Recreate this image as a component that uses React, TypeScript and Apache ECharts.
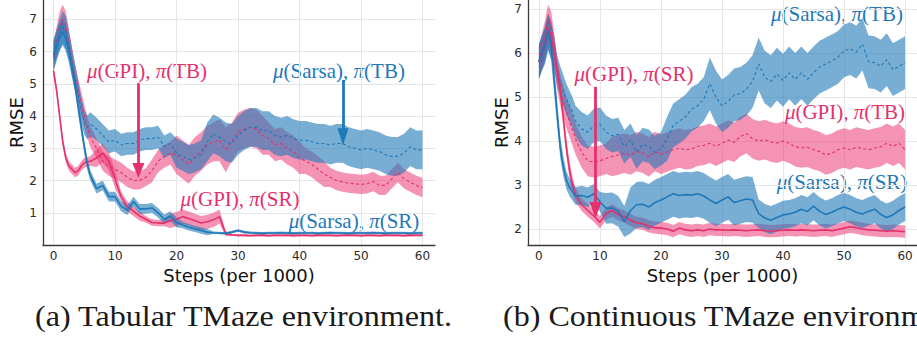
import React, { useEffect, useRef } from "react";
import * as echarts from "echarts";

// Training steps (per 1000): half-step resolution for the fast initial drop, then every step.
const steps = [
  0, 0.5, 1, 1.5, 2, 2.5, 3, 3.5, 4, 4.5, 5, 5.5, 6,
  7, 8, 9, 10, 11, 12, 13, 14, 15, 16, 17, 18, 19, 20,
  21, 22, 23, 24, 25, 26, 27, 28, 29, 30, 31, 32, 33, 34, 35, 36, 37, 38, 39, 40,
  41, 42, 43, 44, 45, 46, 47, 48, 49, 50, 51, 52, 53, 54, 55, 56, 57, 58, 59, 60,
];

const xTicks = [0, 10, 20, 30, 40, 50, 60];
const yTicksTab = [1, 2, 3, 4, 5, 6, 7];
const yTicksCont = [2, 3, 4, 5, 6, 7];

// ---------- Tabular TMaze ----------
const tabGpiTbMean = [
  5.8, 6.3, 6.8, 7.0, 6.8, 6.3, 5.7, 5.2, 4.8, 4.4, 4.0, 3.65, 3.35,
  3.0, 2.6, 2.45, 2.35, 2.25, 2.1, 2.0, 2.0, 2.1, 2.3, 2.6, 2.75, 2.85, 2.8,
  2.65, 2.5, 2.75, 2.9, 3.1, 3.2, 3.25, 2.95, 3.2, 3.5, 3.6, 3.65, 3.6, 3.4, 3.3, 3.1, 3.15, 3.0, 2.9, 2.7,
  2.6, 2.5, 2.35, 2.2, 2.1, 2.0, 1.95, 1.92, 1.9, 1.88, 1.9, 1.97, 1.85, 1.85, 2.05, 2.25, 2.05, 1.95, 1.85, 1.78,
];
const tabGpiTbSpread = [
  0.45, 0.45, 0.45, 0.45, 0.45, 0.4, 0.4, 0.4, 0.38, 0.36, 0.35, 0.33, 0.32,
  0.3, 0.3, 0.3, 0.3, 0.3, 0.3, 0.28, 0.28, 0.28, 0.35, 0.35, 0.35, 0.35, 0.6,
  0.6, 0.6, 0.6, 0.6, 0.6, 0.6, 0.65, 0.7, 0.6, 0.6, 0.6, 0.6, 0.6, 0.6, 0.5, 0.5, 0.5, 0.5, 0.5, 0.5,
  0.4, 0.4, 0.4, 0.4, 0.3, 0.3, 0.3, 0.3, 0.3, 0.3, 0.3, 0.3, 0.3, 0.3, 0.3, 0.3, 0.3, 0.3, 0.3, 0.3,
];

const tabSarsaTbMean = [
  5.9, 6.2, 6.5, 6.75, 6.6, 6.2, 5.7, 5.2, 4.7, 4.2, 3.8, 3.65, 3.75,
  3.6, 3.4, 3.2, 3.25, 3.1, 3.15, 3.15, 3.25, 3.3, 3.3, 3.35, 3.05, 3.15, 2.85,
  2.75, 2.65, 2.7, 2.8, 3.2, 3.45, 3.35, 3.2, 3.15, 3.4, 3.55, 3.65, 3.65, 3.55, 3.55, 3.4, 3.35, 3.4, 3.3, 3.25,
  3.25, 3.2, 3.15, 3.15, 3.1, 3.15, 3.15, 3.05, 3.0, 2.95, 3.0, 2.95, 2.9, 2.8, 2.75, 2.75, 2.85, 3.05, 2.95, 2.95,
];
const tabSarsaTbSpread = [
  0.5, 0.5, 0.5, 0.5, 0.5, 0.45, 0.45, 0.42, 0.4, 0.4, 0.38, 0.37, 0.37,
  0.35, 0.35, 0.35, 0.35, 0.35, 0.35, 0.35, 0.35, 0.35, 0.35, 0.35, 0.35, 0.35, 0.45,
  0.45, 0.45, 0.45, 0.45, 0.6, 0.6, 0.6, 0.6, 0.6, 0.6, 0.6, 0.6, 0.6, 0.6, 0.6, 0.6, 0.6, 0.6, 0.6, 0.6,
  0.6, 0.6, 0.6, 0.6, 0.6, 0.6, 0.6, 0.6, 0.6, 0.6, 0.6, 0.6, 0.6, 0.6, 0.6, 0.6, 0.6, 0.6, 0.6, 0.6,
];

const tabGpiSrMean = [
  5.4, 4.8, 4.0, 3.2, 2.7, 2.45, 2.35, 2.25, 2.3, 2.45, 2.55, 2.58, 2.6,
  2.7, 2.85, 2.6, 2.05, 1.5, 1.2, 1.05, 0.9, 0.8, 0.7, 0.68, 0.68, 0.75, 0.8,
  0.88, 0.82, 0.75, 0.68, 0.72, 0.78, 0.88, 0.35, 0.31, 0.3, 0.3, 0.29, 0.3, 0.3, 0.29, 0.3, 0.3, 0.3, 0.29, 0.3,
  0.3, 0.29, 0.3, 0.3, 0.3, 0.29, 0.3, 0.3, 0.3, 0.29, 0.3, 0.3, 0.29, 0.3, 0.3, 0.3, 0.29, 0.3, 0.3, 0.3,
];
const tabGpiSrSpread = [
  0.15, 0.15, 0.15, 0.15, 0.15, 0.15, 0.15, 0.15, 0.15, 0.15, 0.15, 0.15, 0.15,
  0.28, 0.28, 0.28, 0.28, 0.15, 0.15, 0.15, 0.15, 0.1, 0.1, 0.1, 0.1, 0.22, 0.22,
  0.22, 0.22, 0.22, 0.22, 0.22, 0.22, 0.22, 0.08, 0.03, 0.03, 0.03, 0.03, 0.03, 0.03, 0.03, 0.03, 0.03, 0.03, 0.03, 0.03,
  0.03, 0.03, 0.03, 0.03, 0.03, 0.03, 0.03, 0.03, 0.03, 0.03, 0.03, 0.03, 0.03, 0.03, 0.03, 0.03, 0.03, 0.03, 0.03, 0.03,
];

const tabSarsaSrMean = [
  5.9, 6.2, 6.45, 6.6, 6.4, 6.0, 5.5, 5.0, 4.3, 3.67, 3.05, 2.5, 2.15,
  1.75, 1.85, 1.5, 1.5, 1.2, 1.08, 1.35, 1.12, 1.12, 1.15, 1.0, 0.8, 0.9, 0.7,
  0.62, 0.55, 0.5, 0.45, 0.4, 0.38, 0.37, 0.36, 0.4, 0.45, 0.4, 0.38, 0.37, 0.36, 0.37, 0.37, 0.38, 0.37, 0.36, 0.37,
  0.37, 0.37, 0.36, 0.37, 0.38, 0.37, 0.37, 0.36, 0.37, 0.37, 0.37, 0.38, 0.37, 0.36, 0.37, 0.37, 0.37, 0.36, 0.37, 0.37,
];
const tabSarsaSrSpread = [
  0.4, 0.4, 0.4, 0.4, 0.4, 0.35, 0.3, 0.28, 0.25, 0.22, 0.2, 0.18, 0.16,
  0.15, 0.15, 0.15, 0.15, 0.15, 0.15, 0.15, 0.15, 0.15, 0.15, 0.15, 0.15, 0.15, 0.15,
  0.1, 0.1, 0.1, 0.1, 0.1, 0.04, 0.04, 0.04, 0.04, 0.04, 0.04, 0.04, 0.04, 0.04, 0.04, 0.04, 0.04, 0.04, 0.04, 0.04,
  0.04, 0.04, 0.04, 0.04, 0.04, 0.04, 0.04, 0.04, 0.04, 0.04, 0.04, 0.04, 0.04, 0.04, 0.04, 0.04, 0.04, 0.04, 0.04, 0.04,
];

// ---------- Continuous TMaze ----------
const contGpiTbMean = [
  5.8, 6.1, 6.4, 6.75, 6.6, 6.1, 5.5, 5.15, 4.9, 4.65, 4.45, 4.25, 4.05,
  3.75, 3.55, 3.52, 3.55, 3.6, 3.65, 3.68, 3.72, 3.68, 3.76, 3.72, 3.64, 3.76, 3.7,
  3.75, 3.8, 3.84, 3.8, 3.82, 3.88, 3.9, 3.95, 3.88, 3.95, 4.02, 3.97, 4.1, 4.17, 4.05, 4.0, 4.03, 3.98, 3.95, 4.0,
  3.95, 3.87, 3.84, 3.86, 3.8, 3.76, 3.68, 3.72, 3.8, 3.84, 3.8, 3.86, 3.83, 3.8, 3.84, 3.87, 3.95, 3.88, 3.95, 3.8,
];
const contGpiTbSpread = [
  0.35, 0.35, 0.35, 0.35, 0.35, 0.35, 0.35, 0.35, 0.35, 0.35, 0.35, 0.35, 0.35,
  0.35, 0.35, 0.35, 0.35, 0.35, 0.45, 0.45, 0.45, 0.45, 0.45, 0.45, 0.45, 0.45, 0.45,
  0.45, 0.45, 0.45, 0.45, 0.45, 0.45, 0.45, 0.45, 0.45, 0.45, 0.45, 0.45, 0.45, 0.45, 0.45, 0.45, 0.45, 0.45, 0.45, 0.45,
  0.45, 0.45, 0.45, 0.45, 0.45, 0.45, 0.45, 0.45, 0.45, 0.45, 0.45, 0.45, 0.45, 0.45, 0.45, 0.45, 0.45, 0.45, 0.45, 0.45,
];

const contSarsaTbMean = [
  5.8, 6.0, 6.15, 6.45, 6.3, 6.0, 5.6, 5.35, 5.15, 4.95, 4.8, 4.65, 4.45,
  4.28, 4.2, 4.35, 4.38, 4.2, 4.12, 4.15, 3.87, 4.02, 3.75, 3.92, 3.88, 3.74, 3.82,
  4.05, 4.35, 4.45, 4.55, 4.72, 4.8, 4.95, 5.3, 5.0, 4.8, 4.9, 5.05, 5.08, 5.18, 5.35, 5.75, 5.45, 5.35, 5.52, 5.38,
  5.55, 5.4, 5.55, 5.4, 5.55, 5.68, 5.75, 5.82, 5.9, 6.05, 6.1, 6.02, 6.2, 5.8, 5.78, 5.7, 5.85, 5.62, 5.7, 5.78,
];
const contSarsaTbSpread = [
  0.4, 0.4, 0.4, 0.4, 0.4, 0.4, 0.35, 0.35, 0.35, 0.35, 0.35, 0.35, 0.35,
  0.38, 0.38, 0.38, 0.38, 0.38, 0.38, 0.38, 0.38, 0.38, 0.38, 0.38, 0.38, 0.38, 0.38,
  0.5, 0.5, 0.5, 0.5, 0.5, 0.5, 0.5, 0.6, 0.6, 0.6, 0.6, 0.6, 0.6, 0.6, 0.6, 0.6, 0.6, 0.6, 0.6, 0.6,
  0.6, 0.6, 0.6, 0.6, 0.6, 0.6, 0.6, 0.6, 0.6, 0.6, 0.6, 0.6, 0.6, 0.6, 0.6, 0.6, 0.6, 0.6, 0.6, 0.6,
];

const contGpiSrMean = [
  5.8, 6.0, 6.2, 6.55, 6.4, 6.0, 5.6, 5.2, 4.5, 3.85, 3.35, 3.0, 2.78,
  2.55, 2.42, 2.3, 2.15, 2.35, 2.42, 2.33, 2.28, 2.2, 2.14, 2.12, 2.06, 2.03, 2.02,
  2.0, 1.95, 2.02, 1.98, 1.96, 1.98, 1.96, 2.0, 1.98, 1.98, 1.97, 1.98, 1.97, 1.96, 1.97, 1.98, 1.96, 1.95, 1.96, 1.97,
  1.98, 1.97, 1.98, 1.97, 1.96, 1.97, 1.98, 1.96, 1.99, 2.02, 2.05, 2.03, 2.0, 1.98, 1.97, 1.96, 1.95, 1.96, 1.95, 1.94,
];
const contGpiSrSpread = [
  0.35, 0.35, 0.35, 0.35, 0.35, 0.3, 0.25, 0.22, 0.2, 0.2, 0.2, 0.18, 0.16,
  0.14, 0.14, 0.14, 0.14, 0.14, 0.14, 0.14, 0.14, 0.14, 0.14, 0.14, 0.14, 0.14, 0.14,
  0.14, 0.14, 0.14, 0.14, 0.14, 0.14, 0.14, 0.14, 0.14, 0.14, 0.14, 0.14, 0.14, 0.14, 0.14, 0.14, 0.14, 0.14, 0.14, 0.14,
  0.14, 0.14, 0.14, 0.14, 0.14, 0.14, 0.14, 0.14, 0.14, 0.14, 0.14, 0.14, 0.14, 0.14, 0.14, 0.14, 0.14, 0.14, 0.14, 0.14,
];

const contSarsaSrMean = [
  5.8, 6.0, 6.2, 6.5, 6.2, 5.4, 4.6, 3.85, 3.42, 3.11, 2.95, 2.85, 2.75,
  2.76, 2.72, 2.8, 2.62, 2.47, 2.48, 2.4, 2.17, 2.42, 2.55, 2.56, 2.5, 2.6, 2.66,
  2.73, 2.8, 2.76, 2.78, 2.77, 2.8, 2.75, 2.66, 2.58, 2.66, 2.73, 2.6, 2.64, 2.68, 2.66, 2.35, 2.25, 2.2, 2.26, 2.32,
  2.34, 2.38, 2.45, 2.4, 2.52, 2.4, 2.33, 2.38, 2.45, 2.5, 2.45, 2.38, 2.34, 2.4, 2.45, 2.33, 2.26, 2.32, 2.42, 2.5,
];
const contSarsaSrSpread = [
  0.4, 0.4, 0.4, 0.4, 0.38, 0.35, 0.3, 0.25, 0.22, 0.2, 0.2, 0.2, 0.2,
  0.22, 0.22, 0.22, 0.22, 0.35, 0.35, 0.35, 0.35, 0.52, 0.52, 0.52, 0.52, 0.52, 0.52,
  0.52, 0.52, 0.52, 0.52, 0.52, 0.52, 0.52, 0.52, 0.52, 0.52, 0.52, 0.52, 0.52, 0.52, 0.52, 0.32, 0.32, 0.32, 0.32, 0.32,
  0.32, 0.32, 0.32, 0.32, 0.32, 0.32, 0.32, 0.32, 0.32, 0.32, 0.32, 0.32, 0.32, 0.32, 0.32, 0.32, 0.32, 0.32, 0.32, 0.32,
];

const PINK = "#e5306b";
const BLUE = "#1f78b8";
const PINK_FILL = "rgba(236, 62, 122, 0.56)";
const BLUE_FILL = "rgba(31, 120, 184, 0.6)";

const SANS = "DejaVu Sans";
const SERIF = "Liberation Serif";

function band(axis: number, mean: number[], spread: number[], fill: string) {
  const data = steps.map((s, i) => [s, mean[i] - spread[i], mean[i] + spread[i]]);
  return {
    type: "custom",
    xAxisIndex: axis,
    yAxisIndex: axis,
    silent: true,
    clip: true,
    data,
    encode: { x: 0, y: [1, 2] },
    renderItem: (params: any, api: any) => {
      if (params.dataIndex !== 0) return null;
      const upper = data.map((d) => api.coord([d[0], d[2]]));
      const lower = data.map((d) => api.coord([d[0], d[1]])).reverse();
      return {
        type: "polygon",
        shape: { points: upper.concat(lower) },
        style: { fill },
      };
    },
  };
}

function meanLine(axis: number, mean: number[], color: string, dashed: boolean, markLine?: any) {
  return {
    type: "line",
    xAxisIndex: axis,
    yAxisIndex: axis,
    silent: true,
    symbol: "none",
    data: steps.map((s, i) => [s, mean[i]]),
    lineStyle: dashed
      ? { color, width: 1.1, type: [3, 2.5] }
      : { color, width: 1.6, type: "solid" },
    markLine,
  };
}

function arrow(color: string, x: number, yFrom: number, yTo: number, head: number[]) {
  return {
    silent: true,
    animation: false,
    symbol: ["none", "triangle"],
    symbolSize: head,
    label: { show: false },
    lineStyle: { color, width: 2.8, type: "solid" },
    data: [[{ coord: [x, yFrom] }, { coord: [x, yTo] }]],
  };
}

function xAxis(gridIndex: number, min: number, max: number) {
  return {
    type: "value",
    gridIndex,
    min,
    max,
    axisLine: { show: true, onZero: false, lineStyle: { color: "#3a3a3a", width: 1.3 } },
    axisTick: { show: false, customValues: xTicks },
    axisLabel: { customValues: xTicks, fontFamily: SANS, fontSize: 12, color: "#2a2a2a", margin: 5 },
    splitLine: { show: true, lineStyle: { color: "#e6e6e6", width: 1 } },
    name: "Steps (per 1000)",
    nameLocation: "middle",
    nameGap: 16,
    nameTextStyle: { fontFamily: SANS, fontSize: 18, color: "#111" },
  };
}

function yAxis(gridIndex: number, min: number, max: number, ticks: number[]) {
  return {
    type: "value",
    gridIndex,
    min,
    max,
    axisLine: { show: true, onZero: false, lineStyle: { color: "#3a3a3a", width: 1.3 } },
    axisTick: { show: false, customValues: ticks },
    axisLabel: { customValues: ticks, fontFamily: SANS, fontSize: 12, color: "#2a2a2a", margin: 6 },
    splitLine: { show: true, lineStyle: { color: "#e6e6e6", width: 1 } },
    name: "RMSE",
    nameLocation: "middle",
    nameGap: 15,
    nameTextStyle: { fontFamily: SANS, fontSize: 18, color: "#111" },
  };
}

function label(x: number, y: number, who: string, pol: string, color: string) {
  return {
    type: "text",
    x,
    y,
    silent: true,
    style: {
      text: `{i|μ}(${who}), {i|π}(${pol})`,
      fontFamily: SERIF,
      fontSize: 21,
      lineHeight: 19,
      fill: color,
      align: "center",
      verticalAlign: "middle",
      rich: {
        i: { fontFamily: SERIF, fontSize: 21, lineHeight: 19, fontStyle: "italic", fill: color },
      },
    },
  };
}

function caption(x: number, y: number, text: string) {
  return {
    type: "text",
    x,
    y,
    scaleX: 1.07,
    silent: true,
    style: {
      text,
      fontFamily: SERIF,
      fontSize: 30,
      fill: "#1a1a1a",
      align: "left",
      verticalAlign: "middle",
    },
  };
}

export default function App() {
  const ref = useRef<HTMLDivElement>(null);

  useEffect(() => {
    document.body.style.margin = "0";
    const chart = echarts.init(ref.current as HTMLDivElement, null, { renderer: "svg" });

    const option: any = {
      animation: false,
      backgroundColor: "#ffffff",
      grid: [
        { left: 43, top: 0, width: 392, height: 245 },
        { left: 528, top: 0, width: 392, height: 245 },
      ],
      xAxis: [xAxis(0, -1.71, 62.03), xAxis(1, -1.79, 61.95)],
      yAxis: [yAxis(0, 0, 7.6, yTicksTab), yAxis(1, 1.636, 7.204, yTicksCont)],
      series: [
        // Tabular TMaze
        band(0, tabGpiTbMean, tabGpiTbSpread, PINK_FILL),
        meanLine(0, tabGpiTbMean, PINK, true, arrow(PINK, 13.8, 5.02, 2.31, [12, 15])),
        band(0, tabSarsaTbMean, tabSarsaTbSpread, BLUE_FILL),
        meanLine(0, tabSarsaTbMean, BLUE, true, arrow(BLUE, 47.07, 5.12, 3.36, [11, 17])),
        band(0, tabGpiSrMean, tabGpiSrSpread, PINK_FILL),
        meanLine(0, tabGpiSrMean, PINK, false),
        band(0, tabSarsaSrMean, tabSarsaSrSpread, BLUE_FILL),
        meanLine(0, tabSarsaSrMean, BLUE, false),
        // Continuous TMaze
        band(1, contGpiTbMean, contGpiTbSpread, PINK_FILL),
        meanLine(1, contGpiTbMean, PINK, true),
        band(1, contSarsaTbMean, contSarsaTbSpread, BLUE_FILL),
        meanLine(1, contSarsaTbMean, BLUE, true),
        band(1, contGpiSrMean, contGpiSrSpread, PINK_FILL),
        meanLine(1, contGpiSrMean, PINK, false, arrow(PINK, 9.27, 5.23, 2.43, [12, 16])),
        band(1, contSarsaSrMean, contSarsaSrSpread, BLUE_FILL),
        meanLine(1, contSarsaSrMean, BLUE, false),
      ],
      graphic: [
        label(147, 71, "GPI", "TB", PINK),
        label(339, 71, "Sarsa", "TB", BLUE),
        label(240, 199, "GPI", "SR", PINK),
        label(354, 221, "Sarsa", "SR", BLUE),
        label(837, 14, "Sarsa", "TB", BLUE),
        label(634, 74, "GPI", "SR", PINK),
        label(845, 112, "GPI", "TB", PINK),
        label(842, 182, "Sarsa", "SR", BLUE),
        caption(35, 316, "(a) Tabular TMaze environment."),
        caption(503, 316, "(b) Continuous TMaze environment."),
      ],
    };

    chart.setOption(option);
    return () => chart.dispose();
  }, []);

  return <div ref={ref} style={{ width: 917, height: 339 }} />;
}
